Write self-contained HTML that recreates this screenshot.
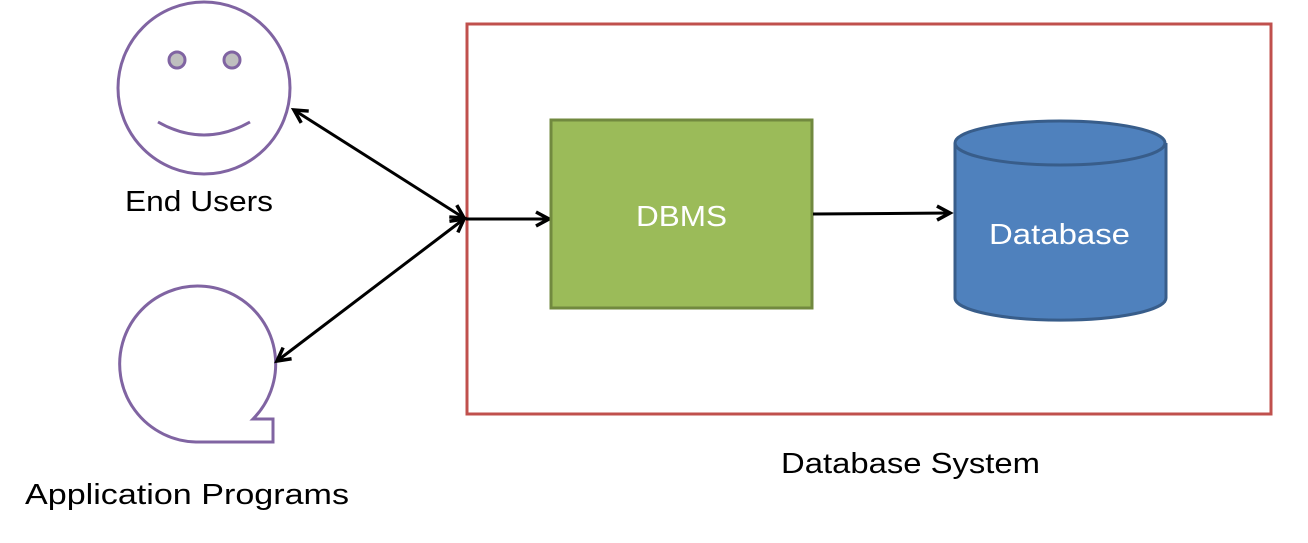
<!DOCTYPE html><html><head><style>body{margin:0;background:#fff}</style></head><body>
<svg width="1308" height="538" xmlns="http://www.w3.org/2000/svg" font-family="Liberation Sans, sans-serif">
<defs><marker id="a" markerWidth="20" markerHeight="20" refX="15" refY="9" orient="auto-start-reverse" markerUnits="userSpaceOnUse"><path d="M2,2 L15,9 L2,16" fill="none" stroke="#000" stroke-width="3.5"/></marker></defs>
<rect x="467" y="24" width="804" height="390" fill="none" stroke="#c0504d" stroke-width="3"/>
<circle cx="204" cy="88" r="86" fill="#fff" stroke="#8064a2" stroke-width="3"/>
<circle cx="177" cy="60" r="8" fill="#bfbfbf" stroke="#8064a2" stroke-width="3"/>
<circle cx="232" cy="60" r="8" fill="#bfbfbf" stroke="#8064a2" stroke-width="3"/>
<path d="M158,122 Q204,148 250,122" fill="none" stroke="#8064a2" stroke-width="3"/>
<path d="M253,419 L273,419 L273,442 L196,442 A78,78 0 1 1 253,419 Z" fill="#fff" stroke="#8064a2" stroke-width="3"/>
<line x1="294" y1="110" x2="464" y2="218" stroke="#000" stroke-width="3" marker-start="url(#a)" marker-end="url(#a)"/>
<line x1="277" y1="361" x2="464" y2="219" stroke="#000" stroke-width="3" marker-start="url(#a)" marker-end="url(#a)"/>
<line x1="466" y1="219" x2="549" y2="219" stroke="#000" stroke-width="3" marker-end="url(#a)"/>
<rect x="551" y="120" width="261" height="188" fill="#9bbb59" stroke="#71893f" stroke-width="3"/>
<text x="636" y="226" font-size="29" fill="#fff" textLength="91" lengthAdjust="spacingAndGlyphs">DBMS</text>
<line x1="813" y1="214" x2="950" y2="213" stroke="#000" stroke-width="3" marker-end="url(#a)"/>
<path d="M955,143 L955,298 A105,22 0 0 0 1166,298 L1166,143" fill="#4f81bd" stroke="#385d8a" stroke-width="3"/>
<ellipse cx="1060" cy="143" rx="105" ry="22" fill="#4f81bd" stroke="#385d8a" stroke-width="3"/>
<text x="989" y="244" font-size="29" fill="#fff" textLength="141" lengthAdjust="spacingAndGlyphs">Database</text>
<text x="125" y="211" font-size="29" fill="#000" textLength="148" lengthAdjust="spacingAndGlyphs">End Users</text>
<text x="25" y="504" font-size="29" fill="#000" textLength="324" lengthAdjust="spacingAndGlyphs">Application Programs</text>
<text x="781" y="473" font-size="29" fill="#000" textLength="259" lengthAdjust="spacingAndGlyphs">Database System</text>
</svg></body></html>
